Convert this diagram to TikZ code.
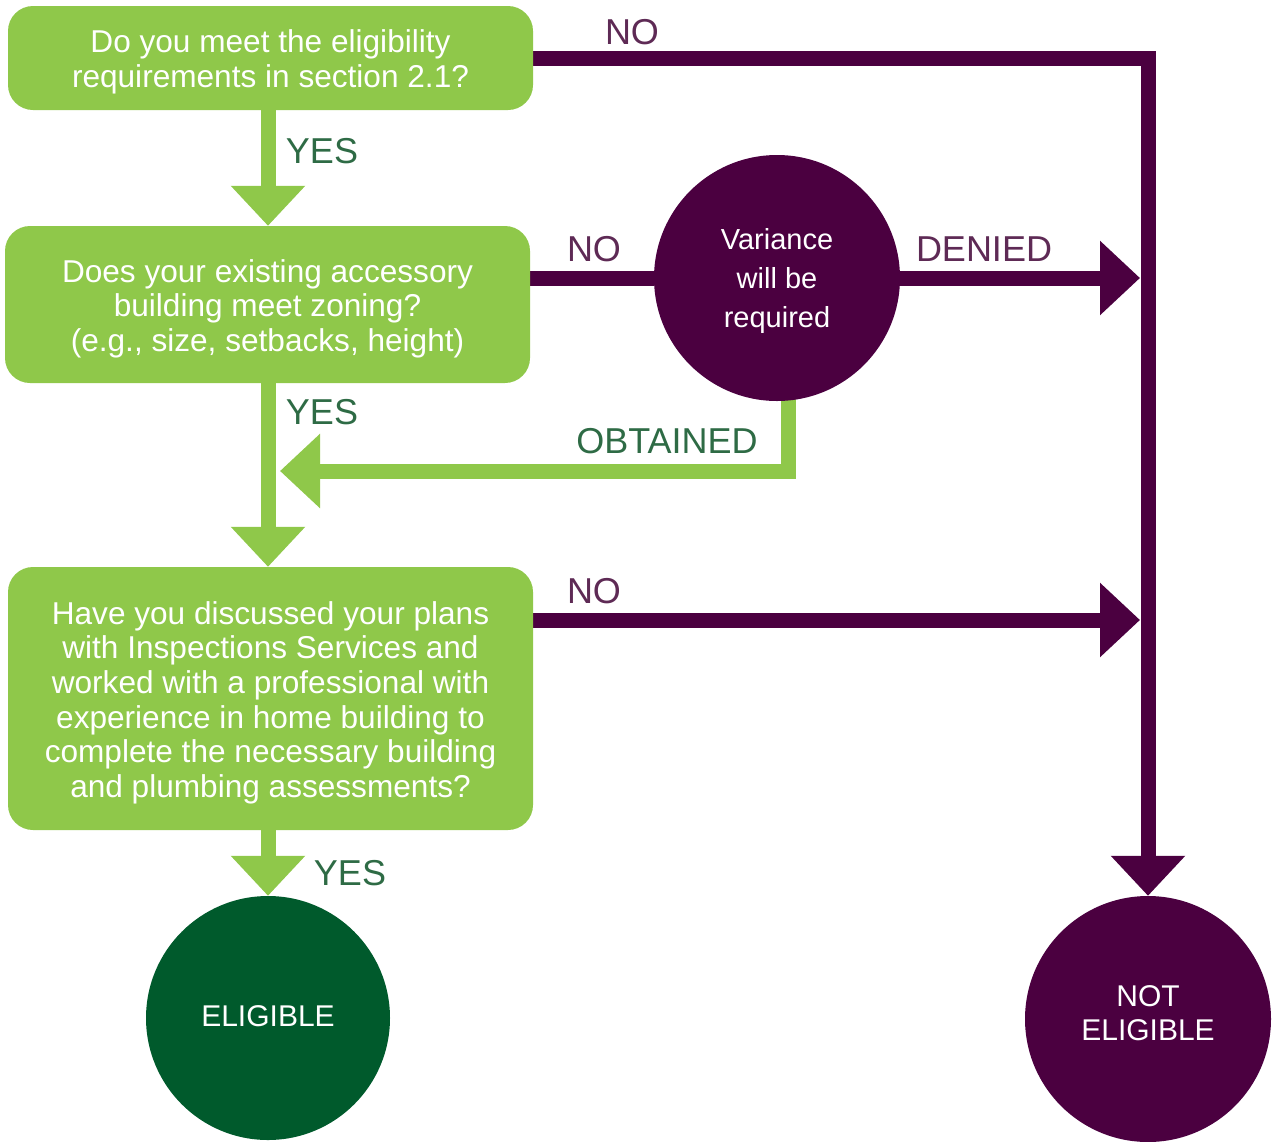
\documentclass[tikz,border=0pt]{standalone}
\usepackage{fontspec}
\setmainfont{Liberation Sans}
\usetikzlibrary{arrows.meta}
\usetikzlibrary{backgrounds}

\definecolor{leafgreen}{RGB}{143,200,74}
\definecolor{darkgreen}{RGB}{0,90,44}
\definecolor{plum}{RGB}{75,0,64}
\definecolor{plumtext}{RGB}{94,42,85}
\definecolor{greentext}{RGB}{46,107,69}

\tikzset{
	question/.style={fill=leafgreen, text=white, rounded corners=25pt, minimum width=525pt, inner sep=0pt, align=center, font=\fontsize{31.6}{34.6}\selectfont},
	endpoint/.style={circle, text=white, minimum size=246pt, inner sep=0pt, align=center, font=\fontsize{30}{34}\selectfont},
	yesline/.style={draw=leafgreen, line width=15pt, line join=miter, -{Triangle[length=40pt,width=72pt]}},
	noline/.style={draw=plum, line width=15pt, line join=miter, -{Triangle[length=40pt,width=72pt]}},
	yeslabel/.style={text=greentext, anchor=base, inner sep=0pt, font=\fontsize{36}{36}\selectfont},
	nolabel/.style={text=plumtext, anchor=base, inner sep=0pt, font=\fontsize{36}{36}\selectfont}
}

\newcommand{\drawLabel}[4]{
	\node[#1] (#2) at (#3) {#4};
}
% first line pushed down a little, as in the original
\newcommand{\topGap}{\rule{0pt}{31pt}}

\begin{document}
\begin{tikzpicture}[x=1pt, y=-1pt]
		\useasboundingbox (0,0) rectangle (1277,1141);

		\coordinate (Stem) at (268,0);
		\coordinate (Spine_T) at (1148,58);
		\coordinate (Spine_L) at (1140,58);
		\coordinate (Back_End) at (280,471);
		\coordinate (No3_End) at (1140,620);

		\node[question, minimum height=104pt] (Q1) at (270.5,58)
			{\topGap Do you meet the eligibility\\requirements in section 2.1?};
		\node[question, minimum height=157pt] (Q2) at (267.5,304.5)
			{\topGap Does your existing accessory\\building meet zoning?\\(e.g., size, setbacks, height)};
		\node[question, minimum height=263pt] (Q3) at (270.5,698.5)
			{\topGap Have you discussed your plans\\with Inspections Services and\\worked with a professional with\\experience in home building to\\complete the necessary building\\and plumbing assessments?};
		\node[endpoint, fill=plum, font=\fontsize{29}{39}\selectfont] (Var) at (777,278)
			{\strut Variance\\will be\\required};
		\node[endpoint, fill=darkgreen, minimum size=244pt] (Elig) at (268,1018) {ELIGIBLE\rule[-4pt]{0pt}{0pt}};
		\node[endpoint, fill=plum] (NotElig) at (1148,1019) {NOT\\ELIGIBLE\rule[-12pt]{0pt}{0pt}};

		\begin{pgfonlayer}{background}
			\draw[yesline] (Q1.south -| Stem) -- (Q2.north -| Stem);
			\draw[yesline] (Q2.south -| Stem) -- (Q3.north -| Stem);
			\draw[yesline] (Q3.south -| Stem) -- (Elig.north);
			\draw[yesline] ([xshift=11pt, yshift=5pt]Var.south) |- (Back_End);
			\draw[noline] (Q1.east) -- (Spine_T) -- (NotElig.north);
			\draw[noline, -] (Q2.east |- Var.west) -- (Var.west);
			\draw[noline] (Var.east) -- (Var.east -| Spine_L);
			\draw[noline] (Q3.east |- No3_End) -- (No3_End);
		\end{pgfonlayer}

		\drawLabel{nolabel}{L_No1}{632,44}{NO}
		\drawLabel{yeslabel}{L_Yes1}{322,163}{YES}
		\drawLabel{nolabel}{L_No2}{594,261}{NO}
		\drawLabel{nolabel}{L_Denied}{984,261}{DENIED}
		\drawLabel{yeslabel}{L_Yes2}{322,424}{YES}
		\drawLabel{yeslabel}{L_Obtained}{667,453}{OBTAINED}
		\drawLabel{nolabel}{L_No3}{594,603}{NO}
		\drawLabel{yeslabel}{L_Yes3}{350,885}{YES}
	\end{tikzpicture}
\end{document}
